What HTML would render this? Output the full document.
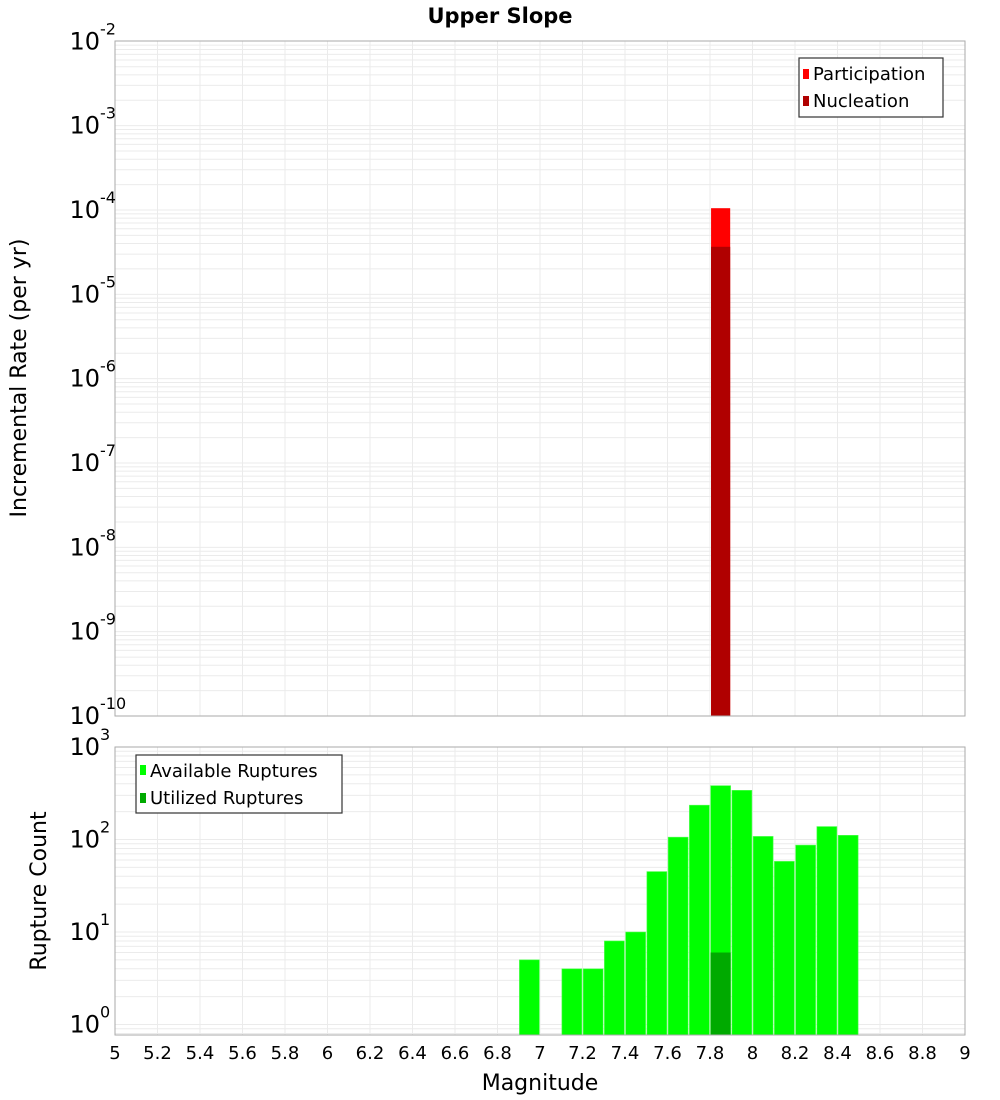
<!DOCTYPE html>
<html><head><meta charset="utf-8"><style>
body{margin:0;background:#fff;}
svg{display:block;font-family:"DejaVu Sans","Liberation Sans",sans-serif;}
</style></head><body>
<svg id="chart" width="1000" height="1100" viewBox="0 0 1000 1100" xmlns="http://www.w3.org/2000/svg">
<text x="500" y="23" text-anchor="middle" font-size="21" font-weight="bold">Upper Slope</text>
<g id="topPlot"></g>
<g id="botPlot"></g>
<text transform="translate(26,378) rotate(-90)" text-anchor="middle" font-size="22">Incremental Rate (per yr)</text>
<text transform="translate(46,891) rotate(-90)" text-anchor="middle" font-size="22">Rupture Count</text>
<text x="540" y="1090" text-anchor="middle" font-size="22">Magnitude</text>
<g>
<rect x="799" y="58" width="144" height="59" fill="#fff" stroke="#333" stroke-width="1.2"/>
<rect x="803" y="69" width="6" height="10" fill="#ff0000"/>
<text x="813" y="80" font-size="18">Participation</text>
<rect x="803" y="96" width="6" height="10" fill="#b00000"/>
<text x="813" y="107" font-size="18">Nucleation</text>
</g>
<g>
<rect x="136" y="755" width="206" height="58" fill="#fff" stroke="#333" stroke-width="1.2"/>
<rect x="140" y="765" width="6" height="10" fill="#00ff00"/>
<text x="150" y="777" font-size="18">Available Ruptures</text>
<rect x="140" y="793" width="6" height="10" fill="#00aa00"/>
<text x="150" y="804" font-size="18">Utilized Ruptures</text>
</g>
</svg>
<script>
const topMags=[7.85];
const participation=[1.05e-4];
const nucleation=[3.66e-5];
const botMags=[6.95,7.15,7.25,7.35,7.45,7.55,7.65,7.75,7.85,7.95,8.05,8.15,8.25,8.35,8.45];
const available=[5,4,4,8,10,45,106,235,382,340,108,58,87,138,111];
const utilizedMags=[7.85];
const utilized=[6];
const xTicks=["5","5.2","5.4","5.6","5.8","6","6.2","6.4","6.6","6.8","7","7.2","7.4","7.6","7.8","8","8.2","8.4","8.6","8.8","9"];
const topExps=[-2,-3,-4,-5,-6,-7,-8,-9,-10];
const botExps=[3,2,1,0];

const NS="http://www.w3.org/2000/svg";
const X0=115,X1=965;
const xScale=m=>X0+(m-5)/4*(X1-X0);
const topY=v=>41.3+(-2-Math.log10(v))*84.34;
const botY=v=>1024.5-Math.log10(v)*92.5;
function mk(tag,attrs,parent){const e=document.createElementNS(NS,tag);for(const k in attrs)e.setAttribute(k,attrs[k]);parent.appendChild(e);return e;}

function grid(g,yf,lo,hi,yTop,yBot){
  for(let d=lo;d<hi;d++)for(let k=1;k<10;k++){const y=yf(k*Math.pow(10,d));if(y<yTop-0.5||y>yBot)continue;
    const l=mk('line',{x1:X0,x2:X1,y1:y,y2:y,stroke:'#ebebeb','stroke-width':1},g);
    
    }
  xTicks.forEach(t=>{const xx=xScale(+t);const l=mk('line',{x1:xx,x2:xx,y1:yTop,y2:yBot,stroke:'#ebebeb','stroke-width':1},g);
    
    });
}
const topG=document.getElementById('topPlot');
grid(topG,topY,-10,-2,41,716);
topMags.forEach((m,i)=>{
  const r=mk('rect',{x:xScale(m-0.045),width:xScale(m+0.045)-xScale(m-0.045),y:topY(participation[i]),height:716-topY(participation[i]),fill:'#ff0000'},topG);
  
  
  const n=mk('rect',{x:xScale(m-0.045),width:xScale(m+0.045)-xScale(m-0.045),y:topY(nucleation[i]),height:716-topY(nucleation[i]),fill:'#b00000'},topG);
  
  
});
const tf=mk('rect',{x:X0,y:41,width:X1-X0,height:675,fill:'none',stroke:'#aaa','stroke-width':1},topG);


topExps.forEach(e=>{const y=topY(Math.pow(10,e));
  const t=mk('text',{x:100,y:y+8,'text-anchor':'end','font-size':24},topG);t.textContent='10';
  
  
  const s=mk('text',{x:100,y:y-7,'font-size':16},topG);s.textContent=String(e);
  
  });

const botG=document.getElementById('botPlot');
grid(botG,botY,-1,3,747,1035);
botMags.forEach((m,i)=>{
  const r=mk('rect',{x:xScale(m-0.047),width:xScale(m+0.047)-xScale(m-0.047),y:botY(available[i]),height:1035-botY(available[i]),fill:'#00ff00',stroke:'#55ff55','stroke-width':0.6},botG);
  
  });
utilizedMags.forEach((m,i)=>{
  const r=mk('rect',{x:xScale(m-0.047),width:xScale(m+0.047)-xScale(m-0.047),y:botY(utilized[i]),height:1035-botY(utilized[i]),fill:'#00aa00'},botG);
  
  });
const bf=mk('rect',{x:X0,y:747,width:X1-X0,height:288,fill:'none',stroke:'#aaa','stroke-width':1},botG);


botExps.forEach(e=>{const y=botY(Math.pow(10,e));
  const t=mk('text',{x:100,y:y+8,'text-anchor':'end','font-size':24},botG);t.textContent='10';
  
  
  const s=mk('text',{x:100,y:y-7,'font-size':16},botG);s.textContent=String(e);
  
  });
xTicks.forEach(t=>{const tx=mk('text',{x:xScale(+t),y:1059,'text-anchor':'middle','font-size':18},botG);tx.textContent=t;
  
  });
</script>
</body></html>
